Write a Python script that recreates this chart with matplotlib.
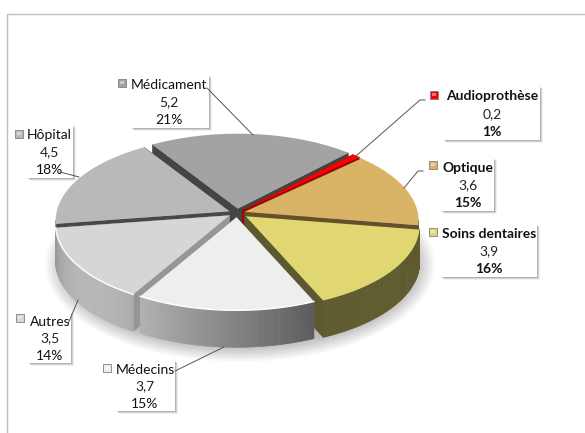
import numpy as np
import matplotlib
matplotlib.use('Agg')
import matplotlib.pyplot as plt
from matplotlib.patches import Polygon, Rectangle, Ellipse

plt.rcParams['font.family'] = ['Lato', 'DejaVu Sans']

# data, clockwise from the top right
names = ['Audioprothèse', 'Optique', 'Soins dentaires', 'Médecins', 'Autres', 'Hôpital', 'Médicament']
values = [0.2, 3.6, 3.9, 3.7, 3.5, 4.5, 5.2]
value_labels = ['0,2', '3,6', '3,9', '3,7', '3,5', '4,5', '5,2']
pct_labels = ['1%', '15%', '16%', '15%', '14%', '18%', '21%']

# styling
top_colors = ['#ff0000', '#d9b366', '#e0d672', '#eeeeee', '#d6d6d6', '#b9b9b9', '#a3a3a3']
cut_colors = ['#a80000', '#64502a', '#5c5830', '#8c8c8c', '#969696', '#484848', '#444444']
wall_left = [0.5, 0.5, 0.37, 0.70, 0.60, 0.6, 0.6]
wall_right = [0.5, 0.4, 0.37, 0.36, 0.72, 0.6, 0.6]
wall_tint = [(1, .1, .1), (.75, .6, .35), (1.0, .96, .5), (1, 1, 1), (1, 1, 1), (1, 1, 1), (1, 1, 1)]
explode = [8, 8, 11, 9, 9, 8, 9]
bold = [True, True, True, False, False, False, False]

# pixel layout
cx, cy_hub, cy_rim = 237, 213, 222
rx, ry = 174, 84
k_ratio = 0.48
depth = 37
start = 46.5

boxes = {  # x0, y0, x1, y1, square x, square y, text x center
    'Audioprothèse': (443, 86, 540, 140, 430, 91, 492),
    'Optique': (441, 158, 494, 211, 429, 161, 468),
    'Soins dentaires': (441, 224, 537, 277, 429, 228, 489),
    'Médecins': (116, 360, 175, 411, 103, 364, 145),
    'Autres': (28, 312, 71, 363, 16, 314, 50),
    'Hôpital': (27, 125, 73, 178, 15, 130, 49),
    'Médicament': (131, 75, 209, 128, 118, 79, 169),
}
leaders = {
    'Audioprothèse': [(425, 100), (420, 100), (356, 156)],
    'Optique': [(423, 171), (418, 171), (404, 188)],
    'Soins dentaires': [],
    'Médecins': [(175, 371), (224, 347)],
    'Autres': [(68, 324), (78, 300)],
    'Hôpital': [(60, 172), (79, 177)],
    'Médicament': [(207, 88), (253, 135)],
}

fig = plt.figure(figsize=(5.85, 4.33), dpi=100)
ax = fig.add_axes([0, 0, 1, 1])
ax.set_xlim(0, 585)
ax.set_ylim(433, 0)
ax.axis('off')

# frame
ax.plot([7, 7, 585], [433, 14, 14], color='#c0c0c0', lw=1, solid_joinstyle='miter')

# soft shadow under the pie
for i in range(14):
    ax.add_patch(Ellipse((cx + 3, cy_rim + depth + 6), 2 * rx + 42 - 3 * i, 2 * ry + 26 - 2.5 * i,
                         fc='k', ec='none', alpha=0.018, zorder=1))


def rim_point(ang):
    # ray from the hub, hit on the rim ellipse (hub sits behind the ellipse centre)
    dx, dy = np.cos(ang), -k_ratio * np.sin(ang)
    ox, oy = 0.0, cy_hub - cy_rim
    A = (dx / rx) ** 2 + (dy / ry) ** 2
    B = 2 * (ox * dx / rx ** 2 + oy * dy / ry ** 2)
    C = (ox / rx) ** 2 + (oy / ry) ** 2 - 1
    t = (-B + np.sqrt(B * B - 4 * A * C)) / (2 * A)
    return np.array([cx + t * dx, cy_hub + t * dy])


total = sum(values)
spans = []
a = start
for v in values:
    b = a - 360 * v / total
    spans.append((a, b))
    a = b

# back wedges first so the front ones cover them
order = sorted(range(len(values)), key=lambda n: -np.sin(np.radians(sum(spans[n]) / 2)))
z = 2
for n in order:
    a0, a1 = np.radians(spans[n])
    mid = (a0 + a1) / 2
    off = np.array([explode[n] * np.cos(mid), -explode[n] * k_ratio * np.sin(mid)])
    hub = np.array([cx, cy_hub]) + off
    th = np.linspace(a0, a1, 80)
    rim = np.array([rim_point(t) for t in th]) + off
    down = np.array([0, depth])

    # the two cut faces
    for e in (rim[0], rim[-1]):
        poly = [hub, e, e + down, hub + down]
        ax.add_patch(Polygon(poly, fc=cut_colors[n], ec=cut_colors[n], lw=0.3, zorder=z))
    z += 1

    # outer wall, only the part that faces the viewer, shaded in strips
    front = rim[rim[:, 1] > cy_rim + off[1] - 1]
    if len(front) > 1:
        for i in range(len(front) - 1):
            f = 1 - i / max(len(front) - 2, 1)
            if n == 4:
                f = np.sin(np.pi * f / 1.3)
            g = wall_left[n] * (1 - f) + wall_right[n] * f
            c = tuple(min(1, g * t) for t in wall_tint[n])
            poly = [front[i], front[i + 1], front[i + 1] + down, front[i] + down]
            ax.add_patch(Polygon(poly, fc=c, ec=c, lw=0.4, zorder=z))
    z += 1

    # top
    ax.add_patch(Polygon(np.vstack([hub, rim]), fc=top_colors[n], ec='none', zorder=z))
    if len(front) > 1 and n in (3, 4):
        ax.plot(front[:, 0], front[:, 1], color='white', lw=1.0, zorder=z)
    z += 1

# leader lines
for name in names:
    pts = leaders[name]
    if pts:
        ax.plot([p[0] for p in pts], [p[1] for p in pts], color='#555555', lw=0.7, zorder=60)

# labels in white boxes with a small shadow
for n, name in enumerate(names):
    x0, y0, x1, y1, sx, sy, tx = boxes[name]
    for o, al in ((2.5, 0.06), (1.5, 0.12), (0.8, 0.15)):
        ax.add_patch(Rectangle((x0 + o, y0 + o), x1 - x0, y1 - y0, fc='k', ec='none', alpha=al, zorder=50))
    ax.add_patch(Rectangle((x0, y0), x1 - x0, y1 - y0, fc='white', ec='none', zorder=51))
    ax.add_patch(Rectangle((sx, sy), 8, 8, fc=top_colors[n], ec='#808080', lw=0.6, zorder=52))
    ax.add_patch(Rectangle((sx + 2, sy + 1.5), 4, 3, fc='white', ec='none', alpha=0.45, zorder=52))
    h = (y1 - y0) / 3
    weight = 'bold' if bold[n] else 'normal'
    ax.text(tx, y0 + h * 0.5 + 1, name, ha='center', va='center', fontsize=10, fontweight=weight, color='#111111', zorder=53)
    ax.text(tx, y0 + h * 1.5 + 1, value_labels[n], ha='center', va='center', fontsize=10, color='#222222', zorder=53)
    ax.text(tx, y0 + h * 2.5 + 1, pct_labels[n], ha='center', va='center', fontsize=10, fontweight=weight, color='#111111', zorder=53)

fig.savefig('out.png', dpi=100)
